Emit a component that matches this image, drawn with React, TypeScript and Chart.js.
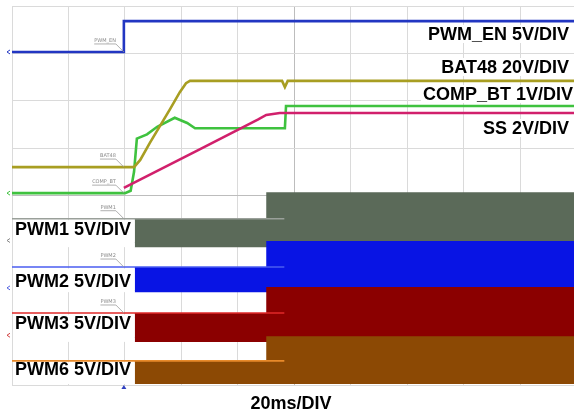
import React, { useEffect, useRef } from "react";
import { Chart, registerables } from "chart.js";

Chart.register(...registerables);

// ---- axis (divisions) ----
const X_TICKS = [0, 1, 2, 3, 4, 5, 6, 7, 8, 9];
const Y_TICKS = [0, 1, 2, 3, 4, 5, 6, 7, 8];
const X_MAX = 9.947;
const Y_MAX = 8;

// ---- analog traces: [x div, y div] ----
const PWM_EN_PTS: [number, number][] = [[0, 7.03], [1.98, 7.03], [1.98, 7.68], [9.95, 7.68]];
const BAT48_PTS: [number, number][] = [
  [0, 4.6], [2.16, 4.6], [2.27, 4.75], [2.44, 5.11], [2.62, 5.47], [2.8, 5.83],
  [2.97, 6.18], [3.08, 6.37], [3.15, 6.42], [4.78, 6.42], [4.83, 6.29], [4.88, 6.42], [9.95, 6.42],
];
const COMP_BT_PTS: [number, number][] = [
  [0, 4.05], [2.0, 4.05], [2.1, 4.1], [2.16, 4.5], [2.21, 5.2], [2.39, 5.29], [2.57, 5.45],
  [2.88, 5.64], [3.1, 5.53], [3.24, 5.42], [3.33, 5.42], [4.83, 5.42], [4.85, 5.89], [9.95, 5.89],
];
const SS_PTS: [number, number][] = [
  [1.98, 4.16], [3.33, 4.98], [4.35, 5.6], [4.5, 5.7], [4.74, 5.74], [9.95, 5.74],
];

// ---- PWM channels: marker level, band top envelope, band bottom ----
const PWM_NAMES = ["PWM1", "PWM2", "PWM3", "PWM6"];
const PWM_MARK = [3.51, 2.49, 1.52, 0.51];
const PWM_TOP_BEFORE = [3.51, 2.49, 1.52, 0.51];
const PWM_TOP_AFTER = [4.07, 3.04, 2.07, 1.03];
const PWM_BOTTOM = [2.91, 1.96, 0.91, 0.02];
const PWM_START = 2.17;
const PWM_STEP = 4.5;
const PWM_MARK_END = 4.82;

// ---- text ----
const RIGHT_LABELS = ["PWM_EN 5V/DIV", "BAT48 20V/DIV", "COMP_BT 1V/DIV", "SS 2V/DIV"];
const LEFT_LABELS = ["PWM1 5V/DIV", "PWM2 5V/DIV", "PWM3 5V/DIV", "PWM6 5V/DIV"];
const X_TITLE = "20ms/DIV";
const SCOPE_TAGS = ["PWM_EN", "BAT48", "COMP_BT", "PWM1", "PWM2", "PWM3"];
const SCOPE_TAG_LEVELS = [7.03, 4.6, 4.05, 3.51, 2.49, 1.52];

// ---- styles ----
const C_EN = "#2236c2";
const C_BAT = "#a89e22";
const C_COMP = "#3fc23f";
const C_SS = "#d1206c";
const PWM_FILL = ["#5b6a59", "#0814e4", "#8b0000", "#8c4904"];
const PWM_MARK_C = ["#9aa09a", "#4a5cf0", "#e02828", "#e88a2a"];

const pts = (a: [number, number][]) => a.map(([x, y]) => ({ x, y }));

const textPlugin = {
  id: "scopeText",
  afterDraw(chart: any) {
    const ctx = chart.ctx as CanvasRenderingContext2D;
    const xs = chart.scales.x;
    const ys = chart.scales.y;
    const font = 'bold 18px "Liberation Sans", Arial, sans-serif';
    ctx.save();

    // right labels
    const rx = [569, 569, 573, 569];
    const ry = [40, 73, 100, 134];
    ctx.font = font;
    ctx.textBaseline = "alphabetic";
    RIGHT_LABELS.forEach((t, i) => {
      const w = ctx.measureText(t).width;
      ctx.fillStyle = "#ffffff";
      ctx.fillRect(rx[i] - w - 2, ry[i] - 15, w + 4, 18);
      ctx.fillStyle = "#000000";
      ctx.textAlign = "right";
      ctx.fillText(t, rx[i], ry[i]);
    });

    // left labels on white boxes
    const ly = [235, 287, 329, 375];
    LEFT_LABELS.forEach((t, i) => {
      const top = ys.getPixelForValue(PWM_TOP_BEFORE[i]) + 1.5;
      const bot = ys.getPixelForValue(PWM_BOTTOM[i]);
      const x0 = xs.getPixelForValue(0);
      const x1 = xs.getPixelForValue(PWM_START);
      ctx.fillStyle = "#ffffff";
      ctx.fillRect(x0 + 1, top, x1 - x0 - 1, bot - top);
      ctx.fillStyle = "#000000";
      ctx.textAlign = "left";
      ctx.fillText(t, 15, ly[i]);
    });

    // x title
    ctx.textAlign = "center";
    ctx.fillText(X_TITLE, 291, 409);

    // scope channel tags with leader lines
    ctx.font = '5px "DejaVu Sans", sans-serif';
    const tx = xs.getPixelForValue(1.98);
    SCOPE_TAGS.forEach((t, i) => {
      const yl = ys.getPixelForValue(SCOPE_TAG_LEVELS[i]);
      const yt = yl - 10;
      ctx.fillStyle = "#8a8a8a";
      ctx.textAlign = "right";
      ctx.fillText(t, tx - 8, yt);
      const w = ctx.measureText(t).width;
      ctx.strokeStyle = "#9a9a9a";
      ctx.lineWidth = 0.8;
      ctx.beginPath();
      ctx.moveTo(tx - 8 - w, yt + 2);
      ctx.lineTo(tx - 8, yt + 2);
      ctx.lineTo(tx, yl);
      ctx.stroke();
    });

    // left channel markers
    const mk = [
      [7.03, C_EN], [4.05, C_COMP], [3.05, "#888888"], [2.05, "#5060e0"], [1.05, "#d04040"],
    ] as [number, string][];
    mk.forEach(([v, c]) => {
      const y = ys.getPixelForValue(v);
      ctx.strokeStyle = c;
      ctx.lineWidth = 1;
      ctx.beginPath();
      ctx.moveTo(10, y - 2);
      ctx.lineTo(7, y);
      ctx.lineTo(10, y + 2);
      ctx.stroke();
    });

    // trigger marker
    const trX = xs.getPixelForValue(1.98);
    const bY = ys.getPixelForValue(0);
    ctx.fillStyle = "#3040c0";
    ctx.beginPath();
    ctx.moveTo(trX, bY);
    ctx.lineTo(trX - 2.5, bY + 4);
    ctx.lineTo(trX + 2.5, bY + 4);
    ctx.closePath();
    ctx.fill();

    ctx.restore();
  },
};

export default function App() {
  const ref = useRef<HTMLCanvasElement>(null);

  useEffect(() => {
    const datasets: any[] = [];
    const line = (data: [number, number][], color: string, order: number, width = 2.6) => ({
      data: pts(data),
      borderColor: color,
      borderWidth: width,
      pointRadius: 0,
      tension: 0,
      fill: false,
      order,
    });
    datasets.push(line(SS_PTS, C_SS, 0));
    datasets.push(line(COMP_BT_PTS, C_COMP, 2));
    datasets.push(line(BAT48_PTS, C_BAT, 1));
    datasets.push(line(PWM_EN_PTS, C_EN, 3));

    PWM_NAMES.forEach((_, i) => {
      datasets.push(
        line([[0, PWM_MARK[i]], [PWM_MARK_END, PWM_MARK[i]]], PWM_MARK_C[i], 4, 1.6)
      );
      datasets.push({
        data: pts([
          [PWM_START, PWM_TOP_BEFORE[i]],
          [PWM_STEP, PWM_TOP_BEFORE[i]],
          [PWM_STEP, PWM_TOP_AFTER[i]],
          [9.95, PWM_TOP_AFTER[i]],
        ]),
        borderWidth: 0,
        borderColor: PWM_FILL[i],
        backgroundColor: PWM_FILL[i],
        pointRadius: 0,
        tension: 0,
        fill: { value: PWM_BOTTOM[i] },
        order: 10 - i,
      });
    });

    const gridColor = (ctx: any, center: number) =>
      ctx.tick && ctx.tick.value === center ? "#bdbdbd" : "#dadada";

    const chart = new Chart(ref.current!, {
      type: "line",
      data: { datasets },
      plugins: [textPlugin],
      options: {
        animation: false,
        responsive: false,
        events: [],
        layout: { padding: { left: 12, top: 6, right: 0, bottom: 28 } },
        plugins: { legend: { display: false }, tooltip: { enabled: false }, title: { display: false } },
        scales: {
          x: {
            type: "linear",
            min: 0,
            max: X_MAX,
            afterBuildTicks: (s: any) => {
              s.ticks = X_TICKS.map((v) => ({ value: v }));
            },
            ticks: { display: false },
            border: { display: false },
            grid: { drawTicks: false, color: (c: any) => gridColor(c, 5), lineWidth: 1 },
          },
          y: {
            type: "linear",
            min: 0,
            max: Y_MAX,
            afterBuildTicks: (s: any) => {
              s.ticks = Y_TICKS.map((v) => ({ value: v }));
            },
            ticks: { display: false },
            border: { display: false },
            grid: { drawTicks: false, color: (c: any) => gridColor(c, 4), lineWidth: 1 },
          },
        },
      } as any,
    });
    return () => chart.destroy();
  }, []);

  return (
    <div style={{ position: "fixed", left: 0, top: 0, width: 574, height: 413, background: "#fff", overflow: "hidden" }}>
      <canvas ref={ref} width={574} height={413} style={{ display: "block" }} />
    </div>
  );
}
